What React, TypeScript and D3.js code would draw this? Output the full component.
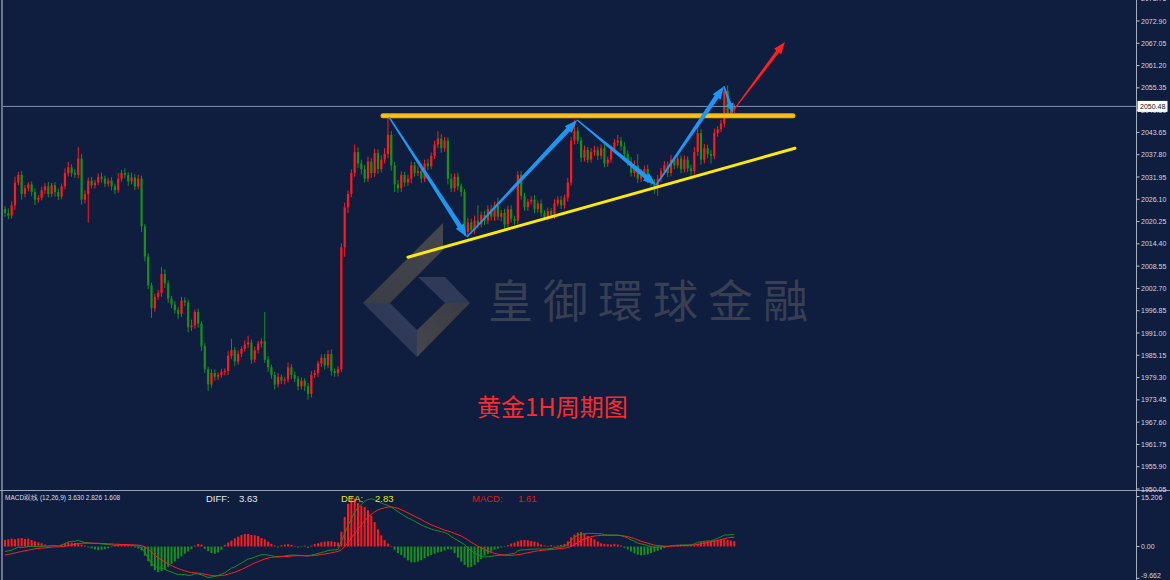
import React from "react";
import * as d3 from "d3";

const W = 1170;
const H = 580;

// ---- price data (1H candles) ----
const firstOpen = 2023.5;
const closes = [
  2022.5, 2021.8, 2024.5, 2030.5, 2032.5, 2027.5, 2029.0, 2030.0, 2028.0, 2026.0,
  2026.5, 2028.5, 2029.5, 2027.5, 2029.8, 2028.0, 2026.8, 2029.5, 2033.0, 2034.5,
  2033.0, 2032.5, 2036.8, 2026.0, 2027.5, 2031.0, 2029.8, 2030.5, 2032.0, 2031.5,
  2030.2, 2031.0, 2029.5, 2028.5, 2031.5, 2033.0, 2032.5, 2030.8, 2031.8, 2029.5,
  2031.5, 2019.0, 2011.0, 2003.5, 1997.5, 2000.5, 2001.5, 2006.5, 2004.0, 2000.0,
  1998.5, 1997.0, 1996.0, 1999.5, 1999.0, 1992.5, 1993.0, 1996.5, 1993.5, 1987.5,
  1981.5, 1977.5, 1980.5, 1979.5, 1980.0, 1980.8, 1981.0, 1985.0, 1986.5, 1983.5,
  1985.5, 1986.8, 1988.0, 1988.5, 1984.0, 1986.5, 1988.2, 1988.8, 1984.0, 1982.0,
  1980.0, 1977.5, 1979.5, 1978.5, 1978.8, 1982.0, 1980.0, 1979.0, 1977.0, 1978.5,
  1977.0, 1975.0, 1980.0, 1980.5, 1983.0, 1984.5, 1982.5, 1985.5, 1981.0, 1980.5,
  1981.5, 2013.5, 2024.0, 2027.5, 2033.0, 2038.5, 2035.5, 2034.0, 2031.5, 2036.0,
  2033.0, 2038.2, 2034.0, 2036.5, 2038.0, 2043.0, 2035.0, 2030.0, 2029.0, 2032.5,
  2030.5, 2031.5, 2035.0, 2033.0, 2033.5, 2031.5, 2035.5, 2034.8, 2037.5, 2040.5,
  2042.0, 2039.5, 2041.5, 2031.5, 2029.0, 2032.0, 2029.5, 2028.0, 2017.5, 2020.0,
  2018.0, 2020.5, 2019.5, 2022.0, 2020.5, 2023.5, 2021.5, 2024.5, 2021.5, 2022.5,
  2019.5, 2023.5, 2021.0, 2020.5, 2032.5, 2027.0, 2024.0, 2025.5, 2026.0, 2023.5,
  2025.0, 2022.5, 2021.5, 2023.0, 2022.0, 2025.0, 2026.0, 2024.5, 2026.5, 2030.5,
  2041.5, 2044.0, 2041.5, 2037.0, 2039.0, 2036.5, 2038.5, 2039.0, 2037.5, 2039.5,
  2035.5, 2036.5, 2039.2, 2041.0, 2041.5, 2040.0, 2038.0, 2036.0, 2033.0, 2035.0,
  2031.5, 2033.0, 2034.0, 2031.5, 2030.5, 2029.5, 2031.5, 2033.5, 2035.0, 2033.0,
  2036.5, 2035.0, 2036.8, 2034.0, 2036.5, 2034.2, 2033.5, 2038.5, 2043.5, 2036.5,
  2039.5, 2038.0, 2037.5, 2043.5, 2044.5, 2046.0, 2054.5, 2048.5, 2049.5, 2050.48,
];
const upWick = [
  0.8, 1.2, 1.0, 1.5, 0.8, 1.0, 0.9, 0.6, 0.8, 1.0,
  0.7, 0.9, 0.8, 1.1, 0.6, 0.8, 0.9, 0.7, 1.2, 1.4,
  0.8, 1.0, 3.0, 1.2, 0.9, 0.8, 1.0, 0.7, 0.9, 1.1,
  0.8, 0.6, 0.9, 0.7, 1.5, 0.8, 1.2, 0.7, 1.3, 0.9,
  1.0, 0.8, 0.6, 0.9, 0.7, 0.8, 0.9, 1.8, 1.2, 0.8,
  0.7, 0.9, 0.8, 1.0, 0.9, 0.8, 1.5, 0.7, 0.9, 0.6,
  0.8, 0.7, 1.0, 0.9, 0.6, 0.8, 0.7, 1.2, 3.0, 0.8,
  0.9, 0.7, 1.1, 1.8, 0.8, 0.9, 0.7, 0.8, 7.7, 0.9,
  0.7, 0.8, 1.0, 0.6, 0.7, 1.2, 0.8, 0.9, 0.7, 0.8,
  0.6, 0.9, 1.0, 0.8, 0.7, 0.9, 1.0, 1.0, 1.2, 0.7,
  0.8, 1.0, 1.2, 0.9, 1.0, 2.0, 1.2, 1.0, 1.1, 1.3,
  0.9, 1.2, 1.0, 1.1, 1.5, 4.7, 1.0, 0.9, 1.2, 1.0,
  0.8, 1.1, 1.0, 0.9, 1.2, 0.8, 1.0, 1.2, 0.9, 1.0,
  2.0, 1.2, 1.0, 0.8, 1.3, 0.9, 1.1, 0.7, 0.8, 1.2,
  1.0, 1.3, 4.0, 0.9, 1.1, 1.0, 1.2, 1.0, 2.0, 0.8,
  1.1, 0.9, 1.0, 0.8, 1.0, 1.0, 0.8, 0.7, 0.9, 1.2,
  0.8, 1.0, 0.7, 0.9, 0.8, 1.1, 0.9, 1.0, 0.8, 1.2,
  1.0, 3.0, 1.1, 0.9, 1.2, 0.8, 1.0, 1.1, 0.9, 1.0,
  1.2, 0.8, 1.0, 0.9, 1.5, 1.0, 1.1, 0.9, 1.2, 1.3,
  3.0, 1.0, 0.9, 1.2, 0.8, 0.9, 1.0, 0.8, 1.1, 1.0,
  1.2, 0.9, 1.0, 0.8, 1.1, 0.9, 1.0, 1.3, 2.5, 1.0,
  1.1, 0.9, 1.0, 1.2, 0.8, 1.0, 1.0, 1.5, 0.8, 0.6,
];
const downWick = [
  1.0, 0.9, 0.8, 1.2, 0.7, 1.5, 0.9, 0.8, 1.1, 1.4,
  0.8, 0.7, 1.0, 0.9, 0.8, 1.2, 0.9, 0.7, 0.8, 0.9,
  1.0, 0.8, 0.9, 1.3, 1.0, 7.5, 0.8, 0.9, 0.7, 1.0,
  0.9, 0.8, 1.1, 1.0, 0.7, 0.8, 0.9, 1.2, 0.8, 1.0,
  0.8, 1.5, 1.2, 1.0, 2.5, 0.9, 0.8, 1.0, 1.2, 1.1,
  1.0, 0.9, 1.2, 0.8, 1.0, 1.3, 1.0, 0.9, 1.1, 1.2,
  1.0, 1.7, 0.9, 1.0, 0.8, 0.7, 0.9, 1.0, 0.8, 1.2,
  0.8, 0.9, 0.7, 1.0, 1.1, 0.8, 0.9, 1.0, 0.9, 1.2,
  1.0, 1.3, 0.8, 0.9, 1.0, 0.8, 1.1, 0.9, 1.0, 0.8,
  1.2, 1.5, 0.9, 0.8, 1.0, 0.9, 1.1, 0.8, 1.2, 1.0,
  0.9, 0.8, 2.5, 1.5, 0.9, 1.0, 1.2, 1.4, 1.0, 0.9,
  1.3, 1.0, 1.2, 0.9, 1.0, 1.1, 1.4, 2.0, 1.2, 1.0,
  1.1, 0.9, 1.2, 1.0, 0.8, 1.1, 0.9, 1.0, 0.8, 0.9,
  1.0, 1.2, 0.9, 1.5, 1.0, 0.9, 1.1, 1.2, 1.0, 1.3,
  0.9, 1.0, 1.1, 0.8, 1.2, 0.9, 1.0, 1.1, 0.9, 1.2,
  1.3, 0.9, 1.0, 1.1, 0.8, 1.0, 0.9, 1.0, 0.8, 1.1,
  0.9, 1.0, 0.8, 1.0, 0.9, 1.1, 0.8, 1.0, 0.9, 1.0,
  0.8, 1.0, 0.9, 1.1, 1.0, 0.9, 0.8, 1.0, 1.1, 0.9,
  1.0, 0.9, 0.8, 1.0, 0.9, 1.1, 1.0, 1.2, 0.9, 1.0,
  1.1, 0.9, 1.0, 1.2, 1.0, 2.0, 2.5, 0.9, 1.0, 1.1,
  0.9, 1.0, 0.8, 1.1, 0.9, 1.0, 1.2, 0.9, 1.0, 1.3,
  1.0, 1.1, 2.0, 0.9, 1.0, 0.8, 1.0, 1.2, 0.9, 0.8,
];

// ---- MACD (12,26,9) values ----
const diffLine = [
  -1.5, -1.3, -1.1, -0.6, -0.2, -0.3, -0.2, 0.0, 0.1, 0.0,
  -0.1, 0.0, 0.2, 0.1, 0.3, 0.3, 0.2, 0.4, 0.9, 1.4,
  1.6, 1.6, 1.9, 1.5, 1.2, 1.2, 1.0, 0.9, 0.9, 0.8,
  0.7, 0.6, 0.5, 0.3, 0.4, 0.5, 0.5, 0.4, 0.4, 0.2,
  0.2, -0.5, -1.8, -3.5, -5.2, -6.0, -6.5, -6.6, -6.9, -7.4,
  -7.8, -8.2, -8.5, -8.5, -8.5, -8.8, -8.7, -8.3, -8.3, -8.6,
  -9.0, -9.4, -9.3, -9.1, -8.8, -8.4, -8.0, -7.3, -6.6, -6.2,
  -5.6, -5.0, -4.4, -3.8, -3.6, -3.2, -2.8, -2.5, -2.5, -2.6,
  -2.8, -3.0, -3.0, -3.0, -2.9, -2.7, -2.6, -2.6, -2.7, -2.7,
  -2.8, -2.9, -2.6, -2.4, -2.1, -1.8, -1.6, -1.2, -1.1, -1.0,
  -0.9, 1.5, 4.0, 6.3, 8.4, 10.5, 11.8, 12.8, 13.8, 14.3,
  14.5, 14.2, 13.7, 13.2, 12.8, 12.5, 12.0, 11.3, 10.6, 9.9,
  9.3, 8.7, 8.2, 7.7, 7.1, 6.6, 6.1, 5.7, 5.3, 5.0,
  4.8, 4.5, 4.3, 3.8, 3.0, 2.4, 1.8, 1.2, 0.6, -0.4,
  -1.3, -2.0, -2.6, -3.0, -3.2, -3.1, -3.0, -2.8, -2.7, -2.6,
  -2.6, -2.4, -2.2, -2.1, -1.3, -1.0, -1.0, -0.9, -0.8, -0.8,
  -0.7, -0.8, -0.8, -0.7, -0.6, -0.4, -0.2, -0.1, 0.0, 0.6,
  1.8, 2.9, 3.4, 3.7, 3.9, 4.0, 4.0, 4.0, 3.9, 3.9,
  3.6, 3.5, 3.5, 3.5, 3.5, 3.3, 3.0, 2.6, 2.0, 1.6,
  1.1, 0.8, 0.6, 0.3, 0.0, -0.2, -0.2, -0.1, 0.0, 0.0,
  0.2, 0.3, 0.4, 0.4, 0.5, 0.5, 0.5, 0.8, 1.3, 1.4,
  1.6, 1.7, 1.7, 2.1, 2.5, 2.9, 3.5, 3.5, 3.6, 3.63,
];
const deaLine = [
  -2.6, -2.4, -2.2, -2.0, -1.7, -1.5, -1.3, -1.1, -0.9, -0.7,
  -0.6, -0.5, -0.4, -0.3, -0.2, -0.1, -0.1, 0.0, 0.1, 0.3,
  0.5, 0.7, 0.9, 1.0, 1.0, 1.0, 1.0, 1.0, 1.0, 0.9,
  0.9, 0.8, 0.8, 0.7, 0.7, 0.6, 0.6, 0.6, 0.5, 0.5,
  0.4, 0.3, -0.1, -0.8, -1.7, -2.6, -3.4, -4.1, -4.7, -5.2,
  -5.8, -6.3, -6.7, -7.1, -7.4, -7.7, -7.9, -8.0, -8.1, -8.2,
  -8.4, -8.6, -8.8, -8.9, -8.9, -8.8, -8.7, -8.4, -8.1, -7.8,
  -7.4, -7.0, -6.5, -6.0, -5.5, -5.0, -4.6, -4.2, -3.8, -3.5,
  -3.3, -3.2, -3.2, -3.1, -3.1, -3.0, -2.9, -2.8, -2.8, -2.8,
  -2.8, -2.8, -2.8, -2.7, -2.6, -2.4, -2.3, -2.1, -1.9, -1.7,
  -1.5, -1.0, 0.0, 1.2, 2.6, 4.0, 5.3, 6.6, 7.8, 8.9,
  9.8, 10.5, 11.1, 11.5, 11.8, 12.0, 12.0, 11.9, 11.6, 11.2,
  10.7, 10.2, 9.7, 9.2, 8.7, 8.2, 7.6, 7.1, 6.6, 6.2,
  5.8, 5.4, 5.0, 4.7, 4.4, 4.0, 3.6, 3.2, 2.6, 2.0,
  1.3, 0.7, 0.1, -0.4, -0.9, -1.4, -1.8, -2.1, -2.3, -2.5,
  -2.6, -2.7, -2.7, -2.6, -2.5, -2.3, -2.1, -1.9, -1.7, -1.5,
  -1.3, -1.2, -1.1, -1.0, -0.9, -0.8, -0.7, -0.6, -0.5, -0.3,
  0.0, 0.6, 1.2, 1.8, 2.3, 2.7, 3.0, 3.2, 3.3, 3.4,
  3.4, 3.4, 3.4, 3.4, 3.4, 3.3, 3.2, 3.0, 2.7, 2.4,
  2.0, 1.6, 1.3, 1.0, 0.7, 0.4, 0.3, 0.2, 0.1, 0.1,
  0.1, 0.2, 0.2, 0.3, 0.3, 0.3, 0.4, 0.5, 0.6, 0.8,
  1.0, 1.2, 1.4, 1.6, 1.8, 2.1, 2.4, 2.6, 2.8, 2.83,
];
const macdHist = [
  2.0, 2.2, 2.4, 2.2, 2.5, 2.6, 2.3, 2.4, 2.0, 1.6,
  1.3, 1.0, 0.6, 0.3, 0.2, 0.1, -0.1, 0.6, 1.0, 1.3,
  1.2, 1.1, 1.0, 0.6, 0.3, -0.3, -0.6, -0.9, -1.1, -1.0,
  -0.8, -0.5, -0.2, 0.3, 0.5, 0.7, 0.6, 0.4, 0.2, -0.3,
  -0.6, -1.2, -2.8, -4.5, -6.0, -7.2, -7.8, -7.5, -7.0, -6.2,
  -5.3, -4.5, -3.7, -3.0, -2.2, -1.5, -0.8, 0.3, 0.8, 0.6,
  -0.7, -1.4, -2.0, -2.2, -1.8, -1.0, 0.5, 1.2, 1.8, 2.5,
  3.0, 3.5, 3.8, 3.8, 3.5, 3.4, 3.2, 2.6, 2.2, 1.5,
  0.8, 0.3, -0.3, 0.4, 0.6, 0.7, 0.5, 0.2, -0.3, -0.2,
  0.3, -0.4, 0.3, 0.8, 1.0, 1.3, 1.5, 1.6, 1.6, 1.4,
  1.2, 4.5, 9.0, 13.0, 15.2, 14.6, 13.2, 12.4, 12.0, 11.0,
  9.4, 7.4, 5.2, 3.4, 2.0, 0.9, 0.2, -1.0, -2.0, -2.6,
  -3.4, -4.2, -4.8, -4.8, -4.6, -4.2, -3.6, -3.0, -2.6, -2.2,
  -1.8, -1.6, -1.2, -0.8, -0.9, -2.0, -3.4, -4.6, -5.6, -6.3,
  -6.2, -5.6, -4.8, -3.8, -2.8, -2.2, -1.6, -1.0, -0.6, -0.3,
  -0.2, 0.4, 0.9, 1.2, 1.6, 1.9, 2.0, 1.9, 1.7, 1.5,
  1.2, 0.6, 0.3, 0.2, 0.4, 0.2, 0.3, 0.5, 0.8, 1.6,
  2.8, 3.6, 4.2, 4.4, 3.8, 3.2, 2.7, 2.2, 1.6, 1.0,
  0.8, 0.7, 0.6, 0.8, 0.6, 0.3, -0.4, -0.9, -1.5, -2.1,
  -2.5, -2.7, -2.6, -2.4, -2.0, -1.6, -1.3, -0.9, -0.5, -0.2,
  0.1, 0.4, 0.5, 0.6, 0.5, 0.4, 0.3, 0.4, 0.9, 1.3,
  1.5, 1.6, 1.7, 1.9, 2.1, 2.3, 2.2, 2.0, 1.8, 1.61,
];

// ---- axis tick labels ----
const priceTicks = [
  1950.05, 1955.9, 1961.75, 1967.6, 1973.45, 1979.3, 1985.15, 1991.0, 1996.85,
  2002.7, 2008.55, 2014.4, 2020.25, 2026.1, 2031.95, 2037.8, 2043.65, 2049.5,
  2055.35, 2061.2, 2067.05, 2072.9, 2078.75,
];
const macdTicks = [15.206, 0.0, -9.662];
const lastPrice = 2050.48;

// ---- annotations in data space: [candle index, price] ----
const resistanceLevel = 2048.0;
const resistanceSpan = [113.5, 236.6];
const supportLine = [
  [121.0, 2010.9],
  [237.2, 2039.5],
];
const zigzag = [
  [115.3, 2047.7],
  [138.7, 2016.2],
  [171.8, 2046.9],
  [195.5, 2029.8],
  [215.9, 2055.8],
  [218.6, 2048.7],
];
const forecastArrow = [
  [219.2, 2050.0],
  [234.2, 2067.4],
];

const BG = "#0f1d3e";
const UP = "#ff1a1a";
const DOWN = "#17901c";
const BLUE = "#1f97f2";

function arrowPath(
  x0: number, y0: number, x1: number, y1: number,
  w0: number, w1: number, headLen: number, headHalf: number
) {
  const dx = x1 - x0, dy = y1 - y0;
  const L = Math.hypot(dx, dy);
  const ux = dx / L, uy = dy / L;
  const nx = -uy, ny = ux;
  const hl = Math.min(headLen, L * 0.6);
  const bx = x1 - ux * hl, by = y1 - uy * hl;
  const pts = [
    [x0 + nx * w0, y0 + ny * w0],
    [bx + nx * w1, by + ny * w1],
    [bx + nx * headHalf, by + ny * headHalf],
    [x1, y1],
    [bx - nx * headHalf, by - ny * headHalf],
    [bx - nx * w1, by - ny * w1],
    [x0 - nx * w0, y0 - ny * w0],
  ];
  return "M" + pts.map((p) => p[0].toFixed(2) + "," + p[1].toFixed(2)).join("L") + "Z";
}

export default function App() {
  const n = closes.length;
  const x = d3.scaleLinear().domain([0, n - 1]).range([5, 734.3]);
  const y = d3.scaleLinear().domain([1950.05, 2072.9]).range([489, 21]);
  const ym = d3.scaleLinear().domain([-9.662, 15.206]).range([578.3, 496.5]);

  const candles = closes.map((c, i) => {
    const o = i === 0 ? firstOpen : closes[i - 1];
    const h = Math.max(o, c) + upWick[i];
    const l = Math.min(o, c) - downWick[i];
    return { i, o, c, h, l };
  });

  const lineGen = d3
    .line<number>()
    .x((_, i) => x(i))
    .y((v) => ym(v));

  const axisX = 1136.5;
  const fmt = d3.format(".2f");

  // logo shape (decoration) around centre
  const lc = { x: 416, y: 303 };

  return (
    <div style={{ position: "fixed", left: 0, top: 0, width: W, height: H, background: BG }}>
      <svg
        width={W}
        height={H}
        viewBox={`0 0 ${W} ${H}`}
        style={{ position: "absolute", left: 0, top: 0, display: "block" }}
      >
        <defs>
          <clipPath id="mainClip">
            <rect x={3} y={0} width={axisX - 3} height={490} />
          </clipPath>
          <clipPath id="macdClip">
            <rect x={3} y={492} width={axisX - 3} height={88} />
          </clipPath>
          <linearGradient id="gUL" x1="0" y1="1" x2="1" y2="0">
            <stop offset="0" stopColor="#3b3d46" />
            <stop offset="1" stopColor="#45464d" />
          </linearGradient>
          <linearGradient id="gLR" x1="1" y1="0" x2="0" y2="1">
            <stop offset="0" stopColor="#3a3b43" />
            <stop offset="1" stopColor="#46474d" />
          </linearGradient>
        </defs>

        <rect x={0} y={0} width={W} height={H} fill={BG} />

        {/* watermark */}
        <g transform={`translate(${lc.x},${lc.y})`}>
          <polygon points="-53,0 27,-80 27,-53 -26,0" fill="url(#gUL)" />
          <polygon points="-53,0 1,54 1,27 -26,0" fill="#2e3a58" />
          <polygon points="2,-26 29,-26 54,0 29,0" fill="#2e3a58" />
          <polygon points="29,0 54,0 1,54 1,27" fill="url(#gLR)" />
        </g>
        <text
          x={488}
          y={318}
          fontFamily="'Noto Sans CJK TC', 'Noto Sans CJK SC', sans-serif"
          fontSize={45}
          letterSpacing={10}
          fill="#393f53"
        >
          皇御環球金融
        </text>

        {/* main panel */}
        <g clipPath="url(#mainClip)">
          {candles.map((d) => {
            const col = d.c >= d.o ? UP : DOWN;
            const cx = x(d.i);
            const top = y(Math.max(d.o, d.c));
            const bot = y(Math.min(d.o, d.c));
            return (
              <g key={d.i}>
                <line x1={cx} x2={cx} y1={y(d.h)} y2={y(d.l)} stroke={col} strokeWidth={1} />
                <rect x={cx - 1.1} y={top} width={2.2} height={Math.max(1, bot - top)} fill={col} />
              </g>
            );
          })}

          {/* last price line */}
          <line x1={3} x2={axisX} y1={y(lastPrice)} y2={y(lastPrice)} stroke="#8595aa" strokeWidth={1} />

          {/* resistance */}
          <line
            x1={x(resistanceSpan[0])}
            x2={x(resistanceSpan[1])}
            y1={y(resistanceLevel)}
            y2={y(resistanceLevel)}
            stroke="#f2ad00"
            strokeWidth={5}
            strokeLinecap="round"
          />
          <line
            x1={x(resistanceSpan[0])}
            x2={x(resistanceSpan[1])}
            y1={y(resistanceLevel)}
            y2={y(resistanceLevel)}
            stroke="#ffc21a"
            strokeWidth={2.5}
            strokeLinecap="round"
          />

          {/* rising support */}
          <line
            x1={x(supportLine[0][0])}
            y1={y(supportLine[0][1])}
            x2={x(supportLine[1][0])}
            y2={y(supportLine[1][1])}
            stroke="#ffea00"
            strokeWidth={3}
            strokeLinecap="round"
          />

          {/* zigzag arrows */}
          {zigzag.slice(0, -1).map((p, k) => {
            const q = zigzag[k + 1];
            const short = k === zigzag.length - 2;
            return (
              <path
                key={k}
                d={arrowPath(
                  x(p[0]), y(p[1]), x(q[0]), y(q[1]),
                  0.7, short ? 1.6 : 2.4, short ? 10 : 13, short ? 4 : 4.8
                )}
                fill={BLUE}
              />
            );
          })}

          {/* forecast arrow */}
          <path
            d={arrowPath(
              x(forecastArrow[0][0]), y(forecastArrow[0][1]),
              x(forecastArrow[1][0]), y(forecastArrow[1][1]),
              0.6, 1.8, 12, 4.5
            )}
            fill="#ff2020"
          />
        </g>

        <text
          x={477}
          y={416}
          fontFamily="'Noto Sans CJK SC', sans-serif"
          fontSize={24}
          fill="#ff2a2a"
        >
          黄金1H周期图
        </text>

        {/* MACD panel */}
        <g clipPath="url(#macdClip)">
          {macdHist.map((v, i) => (
            <rect
              key={i}
              x={x(i) - 1}
              y={Math.min(ym(0), ym(v))}
              width={2}
              height={Math.abs(ym(v) - ym(0))}
              fill={v >= 0 ? UP : DOWN}
            />
          ))}
          <path d={lineGen(diffLine) || ""} fill="none" stroke="#1c8f1f" strokeWidth={1} />
          <path d={lineGen(deaLine) || ""} fill="none" stroke="#ff2222" strokeWidth={1} />
        </g>

        {/* MACD header */}
        <g fontFamily="'Liberation Sans', Arial, sans-serif">
          <text x={5} y={500} fontSize={6.5} fill="#d8dde6">
            MACD双线 (12,26,9) 3.630 2.826 1.608
          </text>
          <text x={206} y={501.5} fontSize={9.5} fill="#e6e8ec">DIFF:</text>
          <text x={239} y={501.5} fontSize={9.5} fill="#e6e8ec">3.63</text>
          <text x={341} y={501.5} fontSize={9.5} fill="#e8e21c">DEA:</text>
          <text x={375} y={501.5} fontSize={9.5} fill="#e8e21c">2.83</text>
          <text x={472} y={501.5} fontSize={9.5} fill="#e01818">MACD:</text>
          <text x={518} y={501.5} fontSize={9.5} fill="#e01818">1.61</text>
        </g>

        {/* frame lines */}
        <line x1={2} x2={2} y1={0} y2={H} stroke="#8b93a2" strokeWidth={1.5} />
        <line x1={0} x2={W} y1={490.5} y2={490.5} stroke="#9aa3b2" strokeWidth={1} />
        <line x1={axisX} x2={axisX} y1={0} y2={H} stroke="#a6aebb" strokeWidth={1} />

        {/* price axis */}
        <g fontFamily="'Liberation Sans', Arial, sans-serif" fontSize={7} fill="#d2d8e2">
          {priceTicks.map((t) => (
            <g key={t}>
              <line x1={axisX} x2={axisX + 3} y1={y(t)} y2={y(t)} stroke="#c0c6d0" />
              <text x={1141} y={y(t) + 2.5}>{fmt(t)}</text>
            </g>
          ))}
          {macdTicks.map((t, k) => (
            <g key={"m" + t}>
              <line x1={axisX} x2={axisX + 3} y1={ym(t)} y2={ym(t)} stroke="#c0c6d0" />
              <text x={1141} y={k === 0 ? ym(t) + 3 : k === 2 ? ym(t) - 0.5 : ym(t) + 2.5}>
                {t === 0 ? "0.00" : t.toFixed(3)}
              </text>
            </g>
          ))}
          <rect x={1137.5} y={y(lastPrice) - 5.5} width={30} height={11} fill="#ffffff" />
          <text x={1140} y={y(lastPrice) + 2.5} fill="#101010">{fmt(lastPrice)}</text>
        </g>
      </svg>
    </div>
  );
}
